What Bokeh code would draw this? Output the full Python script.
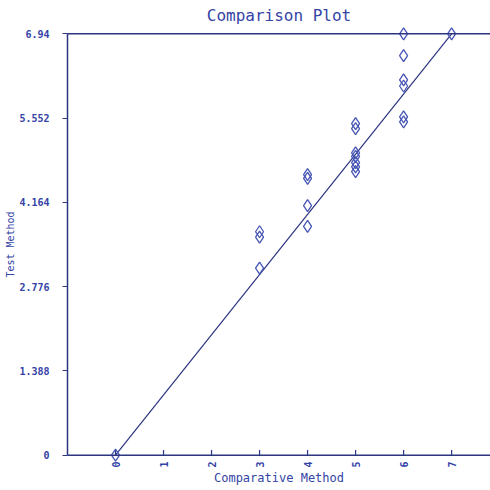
import math
from bokeh.plotting import figure
from bokeh.models import Range1d, FixedTicker, Span, ColumnDataSource
from bokeh.embed import file_html
from bokeh.resources import INLINE

# --- data ---
comparative = [0, 3, 3, 3, 4, 4, 4, 4, 5, 5, 5, 5, 5, 5, 5, 6, 6, 6, 6, 6, 6, 7]
test = [0.0, 3.68, 3.59, 3.08, 4.62, 4.56, 4.11, 3.77,
        5.46, 5.38, 4.98, 4.92, 4.82, 4.75, 4.67,
        6.94, 6.58, 6.18, 6.08, 5.57, 5.49, 6.94]
fit_x = [0, 7]
fit_y = [0.0, 6.94]
y_ticks = [0, 1.388, 2.776, 4.164, 5.552, 6.94]
y_tick_labels = ["0", "1.388", "2.776", "4.164", "5.552", "6.94"]
x_ticks = [0, 1, 2, 3, 4, 5, 6, 7]

NAVY = "#2b3580"
TXT = "#3443a6"
MARK = "#4656b4"
FONT = "DejaVu Sans Mono"
TICK_LEN = 0.085  # x tick length, in data units (~5px)

p = figure(width=490, height=490, output_backend="svg", toolbar_location=None,
           x_range=Range1d(-1, 7.81), y_range=Range1d(-0.12, 7.06),
           min_border_left=67, min_border_right=0, min_border_top=26,
           min_border_bottom=28, title="Comparison Plot")
p.outline_line_color = None
p.background_fill_color = "white"
p.border_fill_color = "white"
p.xgrid.visible = False
p.ygrid.visible = False

p.title.align = "center"
p.title.text_font = FONT
p.title.text_font_style = "normal"
p.title.text_font_size = "16px"
p.title.text_color = TXT
p.title.offset = 0
p.title.standoff = 4

# y axis
ya = p.yaxis[0]
ya.ticker = FixedTicker(ticks=y_ticks)
ya.major_label_overrides = {t: l for t, l in zip(y_ticks, y_tick_labels)}
ya.bounds = (0, 6.94)
ya.axis_line_color = NAVY
ya.axis_line_width = 1.5
ya.major_tick_line_color = NAVY
ya.major_tick_out = 5
ya.major_tick_in = 0
ya.minor_tick_line_color = None
ya.major_label_standoff = 13
ya.major_label_text_font = FONT
ya.major_label_text_font_size = "10px"
ya.major_label_text_font_style = "bold"
ya.major_label_text_color = TXT
ya.axis_label = "Test Method"
ya.axis_label_text_font = FONT
ya.axis_label_text_font_style = "normal"
ya.axis_label_text_font_size = "10px"
ya.axis_label_text_color = TXT
ya.axis_label_standoff = 0

# x axis (labels only; line and ticks drawn at y = 0)
xa = p.xaxis[0]
xa.ticker = FixedTicker(ticks=x_ticks)
xa.axis_line_color = None
xa.major_tick_line_color = None
xa.minor_tick_line_color = None
xa.major_tick_in = 0
xa.major_tick_out = 0
xa.major_label_standoff = -1
xa.major_label_orientation = math.pi / 2
xa.major_label_text_font = FONT
xa.major_label_text_font_size = "10px"
xa.major_label_text_font_style = "bold"
xa.major_label_text_color = TXT
xa.axis_label = "Comparative Method"
xa.axis_label_text_font = FONT
xa.axis_label_text_font_style = "normal"
xa.axis_label_text_font_size = "12px"
xa.axis_label_text_color = TXT
xa.axis_label_standoff = 0

# x axis line at 0 and top frame line at 6.94
p.add_layout(Span(location=y_ticks[0], dimension="width", line_color=NAVY, line_width=1.5))
p.add_layout(Span(location=y_ticks[-1], dimension="width", line_color=NAVY, line_width=1.5))

# inward x ticks
p.segment(x0=x_ticks, y0=[y_ticks[0]] * len(x_ticks), x1=x_ticks,
          y1=[y_ticks[0] + TICK_LEN] * len(x_ticks), line_color=NAVY, line_width=1.2)

# regression line
p.line(fit_x, fit_y, line_color=NAVY, line_width=1.2)

src = ColumnDataSource(dict(x=comparative, y=test))
p.scatter("x", "y", source=src, marker="diamond", size=12, fill_color=None,
          line_color=MARK, line_width=1.3)

open("out.html", "w").write(file_html(p, INLINE))
